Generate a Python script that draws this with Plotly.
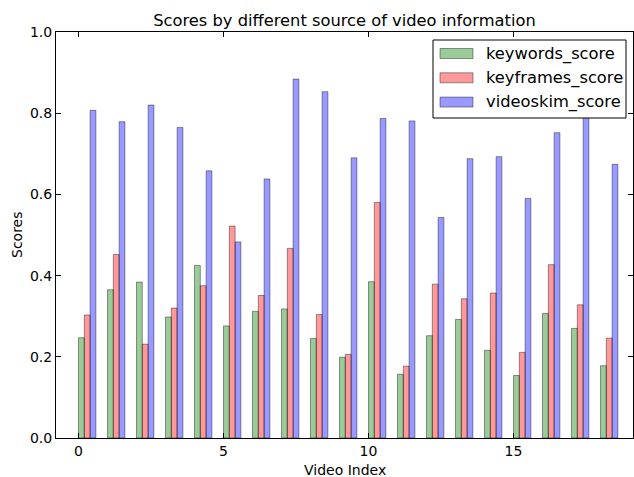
import plotly.graph_objects as go

# Scores for each video, by source of information
video_index = list(range(19))
keywords_score = [0.247, 0.365, 0.384, 0.298, 0.425, 0.276, 0.312, 0.318, 0.245, 0.199,
                  0.385, 0.157, 0.252, 0.292, 0.216, 0.154, 0.307, 0.270, 0.178]
keyframes_score = [0.303, 0.452, 0.231, 0.320, 0.375, 0.522, 0.351, 0.467, 0.304, 0.206,
                   0.580, 0.177, 0.379, 0.343, 0.357, 0.211, 0.427, 0.328, 0.246]
videoskim_score = [0.807, 0.779, 0.820, 0.765, 0.658, 0.483, 0.638, 0.884, 0.853, 0.690,
                   0.787, 0.781, 0.543, 0.688, 0.693, 0.590, 0.752, 0.830, 0.674]

y_ticks = [0.0, 0.2, 0.4, 0.6, 0.8, 1.0]
x_ticks = [0, 5, 10, 15]

bar_width = 0.2
series = [
    ("keywords_score", keywords_score, "rgba(0,128,0,0.4)", 0.0),
    ("keyframes_score", keyframes_score, "rgba(255,0,0,0.4)", 0.2),
    ("videoskim_score", videoskim_score, "rgba(0,0,255,0.4)", 0.4),
]
edge = "rgba(0,0,0,0.4)"

W, H = 634, 477
M = dict(l=56, r=1, t=32, b=39)
plot_w = W - M["l"] - M["r"]
plot_h = H - M["t"] - M["b"]


def px_x(p):
    return (p - M["l"]) / plot_w


def px_y(p):
    return (H - M["b"] - p) / plot_h


fig = go.Figure()
for name, vals, color, off in series:
    fig.add_trace(go.Bar(
        x=video_index, y=vals, name=name,
        width=bar_width, offset=off,
        marker=dict(color=color, line=dict(color=edge, width=1)),
        showlegend=False,
    ))

# Boxed legend in the upper-right corner with wide colour patches
shapes = [dict(type="rect", xref="paper", yref="paper", layer="above",
               x0=px_x(433), x1=px_x(626), y0=px_y(118), y1=px_y(40),
               fillcolor="white", line=dict(color="black", width=1))]
annotations = []
for i, (name, _, color, _) in enumerate(series):
    cy = 53.5 + 24.3 * i
    shapes.append(dict(type="rect", xref="paper", yref="paper", layer="above",
                       x0=px_x(440), x1=px_x(473), y0=px_y(cy + 5), y1=px_y(cy - 5),
                       fillcolor=color, line=dict(color=edge, width=1)))
    annotations.append(dict(text=name, xref="paper", yref="paper",
                            x=px_x(484), y=px_y(cy), xanchor="left", yanchor="middle",
                            showarrow=False, font=dict(size=16.3, color="black")))

# Axis titles
annotations.append(dict(text="Video Index", xref="paper", yref="paper",
                        x=0.5, y=px_y(470), xanchor="center", yanchor="middle",
                        showarrow=False, font=dict(size=14, color="black")))
annotations.append(dict(text="Scores", xref="paper", yref="paper", textangle=-90,
                        x=px_x(17), y=0.5, xanchor="center", yanchor="middle",
                        showarrow=False, font=dict(size=14, color="black")))

font = "DejaVu Sans, Liberation Sans, sans-serif"
fig.update_layout(
    width=W, height=H,
    margin=M,
    paper_bgcolor="white", plot_bgcolor="white",
    barmode="overlay",
    font=dict(family=font, size=14, color="black"),
    title=dict(text="Scores by different source of video information",
               x=0.5, xref="paper", xanchor="center", y=0.958, yanchor="middle",
               font=dict(size=16.3, color="black")),
    shapes=shapes,
    annotations=annotations,
    showlegend=False,
)
fig.update_xaxes(
    range=[-0.776, 19.12], tickvals=x_ticks, ticktext=[str(t) for t in x_ticks],
    showline=True, linecolor="black", linewidth=1, mirror="ticks",
    ticks="inside", ticklen=5, tickcolor="black", showgrid=False, zeroline=False,
    automargin=False,
)
fig.update_yaxes(
    range=[0, 1.0], tickvals=y_ticks, ticktext=[f"{t:.1f}" for t in y_ticks],
    showline=True, linecolor="black", linewidth=1, mirror="ticks",
    ticks="inside", ticklen=5, tickcolor="black", showgrid=False, zeroline=False,
    automargin=False,
)

fig.write_html("out.html")
